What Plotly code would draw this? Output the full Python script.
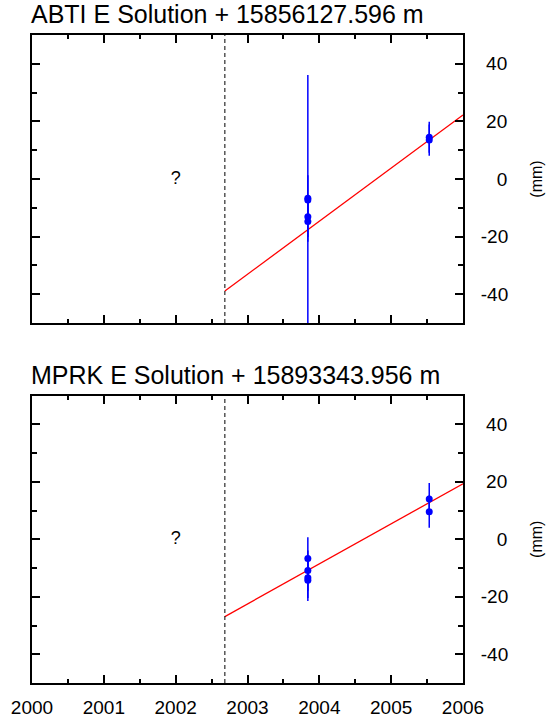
import plotly.graph_objects as go
from plotly.subplots import make_subplots

# ---- data ----
titles = ["ABTI E Solution + 15856127.596 m", "MPRK E Solution + 15893343.956 m"]

abti_t = [2003.84, 2003.84, 2003.84, 2003.84, 2005.53, 2005.53]
abti_v = [-6.7, -7.3, -13.1, -14.8, 14.5, 13.5]
abti_e = [8.0, 43.4, 7.0, 7.0, 5.4, 5.4]
abti_fit_t = [2002.685, 2006.0]
abti_fit_v = [-38.9, 22.2]

mprk_t = [2003.84, 2003.84, 2003.84, 2003.84, 2005.53, 2005.53]
mprk_v = [-6.7, -10.9, -13.4, -14.3, 14.0, 9.6]
mprk_e = [7.4, 7.0, 7.0, 7.2, 5.6, 5.6]
mprk_fit_t = [2002.685, 2006.0]
mprk_fit_v = [-26.9, 19.3]

break_epoch = 2002.685
unknown_t = [2002.0]
unknown_v = [0.0]

x_range = [2000, 2006]
y_range = [-50, 50]
y_tickvals = [-40, -20, 0, 20, 40]
y_ticktext = ["-40", "-20", "\u00a0\u00a0\u00a00", "\u00a020", "\u00a040"]

FONT = "Liberation Sans, Arial, Helvetica, sans-serif"

fig = make_subplots(rows=2, cols=1, shared_xaxes=False, vertical_spacing=0.0)

panels = [
    (abti_t, abti_v, abti_e, abti_fit_t, abti_fit_v),
    (mprk_t, mprk_v, mprk_e, mprk_fit_t, mprk_fit_v),
]

for i, (t, v, e, ft, fv) in enumerate(panels, start=1):
    fig.add_trace(go.Scatter(x=ft, y=fv, mode="lines",
                             line=dict(color="#ff0000", width=1.3),
                             showlegend=False, hoverinfo="skip"), row=i, col=1)
    fig.add_trace(go.Scatter(x=t, y=v, mode="markers",
                             marker=dict(color="#0000ff", size=7),
                             error_y=dict(type="data", array=e, visible=True,
                                          color="#0000ff", thickness=1.5, width=0),
                             showlegend=False), row=i, col=1)
    fig.add_trace(go.Scatter(x=unknown_t, y=unknown_v, mode="text", text=["?"],
                             textfont=dict(size=18, color="black", family=FONT),
                             showlegend=False, hoverinfo="skip"), row=i, col=1)
    fig.add_vline(x=break_epoch, line=dict(color="black", width=1, dash="4px,3px"),
                  row=i, col=1)

top_dom = [1 - 288 / 648, 1.0]
bot_dom = [0.0, 287.5 / 648]

axis_common_x = dict(range=x_range, tick0=2000, dtick=1, ticks="inside", ticklen=8,
                     tickwidth=1.5, tickcolor="black", showline=True, linewidth=2,
                     linecolor="black", mirror="ticks", showgrid=False, zeroline=False,
                     minor=dict(dtick=0.5, tick0=2000, ticks="inside", ticklen=4,
                                tickwidth=1.5, tickcolor="black", showgrid=False),
                     tickfont=dict(size=19, family=FONT, color="black"),
                     ticklabelstandoff=6, automargin=False)
axis_common_y = dict(range=y_range, side="right", tickvals=y_tickvals, ticktext=y_ticktext,
                     ticks="inside", ticklen=8, tickwidth=1.5, tickcolor="black",
                     showline=True, linewidth=2, linecolor="black", mirror="ticks",
                     showgrid=False, zeroline=False,
                     minor=dict(dtick=10, tick0=0, ticks="inside", ticklen=5,
                                tickwidth=1.5, tickcolor="black", showgrid=False),
                     tickfont=dict(size=19, family=FONT, color="black"),
                     ticklabelstandoff=12, automargin=False,
                     title=dict(text="(mm)", font=dict(size=16, family=FONT, color="black"),
                                standoff=24))

fig.update_xaxes(**axis_common_x)
fig.update_yaxes(**axis_common_y)
fig.update_xaxes(showticklabels=False, domain=[0, 1], row=1, col=1)
fig.update_xaxes(showticklabels=True, domain=[0, 1], row=2, col=1)
fig.update_yaxes(domain=top_dom, row=1, col=1)
fig.update_yaxes(domain=bot_dom, row=2, col=1)

for title, dom in zip(titles, [top_dom, bot_dom]):
    fig.add_annotation(text=title, xref="paper", yref="paper", x=0, y=dom[1],
                       xanchor="left", yanchor="bottom", showarrow=False,
                       xshift=-3, yshift=5,
                       font=dict(size=25, family=FONT, color="black"))

fig.update_layout(width=552, height=721, margin=dict(l=32, r=89, t=35, b=38),
                  plot_bgcolor="white", paper_bgcolor="white", showlegend=False)

fig.write_html("out.html")
